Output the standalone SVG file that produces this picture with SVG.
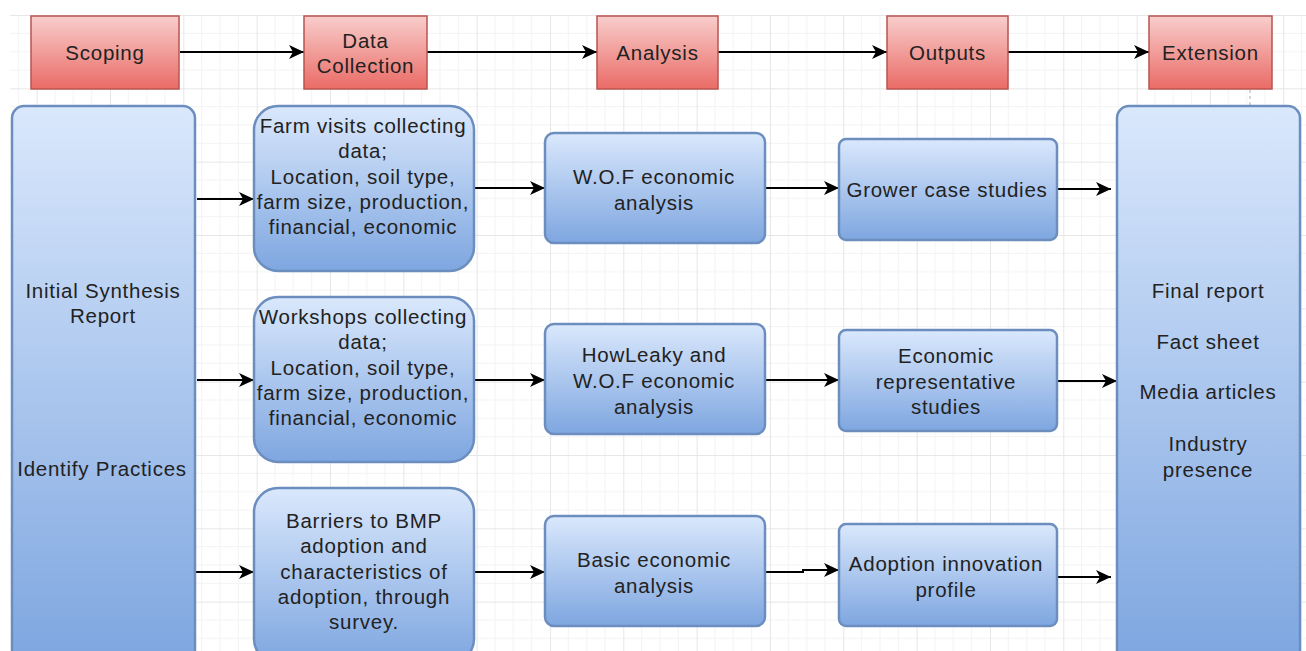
<svg xmlns="http://www.w3.org/2000/svg" width="1306" height="651" viewBox="0 0 1306 651">
<defs>
  <pattern id="grid" patternUnits="userSpaceOnUse" x="36.67" y="15" width="73.33" height="73.33">
    <path d="M18.33 0V73.33M36.67 0V73.33M55 0V73.33M0 18.33H73.33M0 36.67H73.33M0 55H73.33" stroke="#f3f3f3" stroke-width="1" fill="none"/>
    <path d="M0.5 0V73.33M0 0.5H73.33" stroke="#e6e6e6" stroke-width="1" fill="none"/>
  </pattern>
  <linearGradient id="red" x1="0" y1="0" x2="0" y2="1">
    <stop offset="0" stop-color="#f8cecc"/>
    <stop offset="1" stop-color="#ea6b66"/>
  </linearGradient>
  <linearGradient id="blue" x1="0" y1="0" x2="0" y2="1">
    <stop offset="0" stop-color="#dae8fc"/>
    <stop offset="1" stop-color="#7ea6e0"/>
  </linearGradient>
  <marker id="arr" markerWidth="16" markerHeight="14" refX="15" refY="7" orient="auto" markerUnits="userSpaceOnUse">
    <path d="M0 0L15 7L0 14L4 7Z" fill="#000"/>
  </marker>
</defs>
<style>
  .hdr{fill:url(#red);stroke:#b85450;stroke-width:1.5}
  .box{fill:url(#blue);stroke:#6c8ebf;stroke-width:2.5}
  text{font-family:"Liberation Sans",Arial,sans-serif;font-size:20.5px;fill:#222;text-anchor:middle;letter-spacing:0.75px}
  .c{stroke:#000;stroke-width:2;fill:none;marker-end:url(#arr)}
</style>
<rect x="10" y="15" width="1296" height="636" fill="url(#grid)"/>
<line x1="1250" y1="90" x2="1250" y2="105" stroke="#c8c8c8" stroke-width="1.5" stroke-dasharray="3 3"/>

<g id="connectors">
  <line class="c" x1="180" y1="52" x2="304" y2="52"/>
  <line class="c" x1="427" y1="52" x2="597" y2="52"/>
  <line class="c" x1="718" y1="52" x2="887" y2="52"/>
  <line class="c" x1="1008" y1="52" x2="1149" y2="52"/>
  <line class="c" x1="197" y1="199" x2="254" y2="199"/>
  <line class="c" x1="197" y1="380" x2="254" y2="380"/>
  <line class="c" x1="196" y1="572" x2="254" y2="572"/>
  <line class="c" x1="474" y1="188" x2="545" y2="188"/>
  <line class="c" x1="474" y1="380" x2="545" y2="380"/>
  <line class="c" x1="474" y1="572" x2="545" y2="572"/>
  <line class="c" x1="766" y1="188" x2="839" y2="188"/>
  <line class="c" x1="766" y1="380" x2="839" y2="380"/>
  <polyline class="c" points="766,572 803,572 803,570 839,570"/>
  <line class="c" x1="1057" y1="189" x2="1111" y2="189"/>
  <line class="c" x1="1057" y1="381" x2="1117" y2="381"/>
  <line class="c" x1="1057" y1="577" x2="1111" y2="577"/>
</g>

<g id="scoping">
  <rect class="hdr" x="31" y="16" width="148" height="73"/>
  <text x="105" y="59.5">Scoping</text>
</g>
<g id="data-collection">
  <rect class="hdr" x="304" y="16" width="123" height="73"/>
  <text x="365.5" y="47.5">Data</text>
  <text x="365.5" y="73">Collection</text>
</g>
<g id="analysis">
  <rect class="hdr" x="597" y="16" width="121" height="73"/>
  <text x="657.5" y="59.5">Analysis</text>
</g>
<g id="outputs">
  <rect class="hdr" x="887" y="16" width="121" height="73"/>
  <text x="947.5" y="59.5">Outputs</text>
</g>
<g id="extension">
  <rect class="hdr" x="1149" y="16" width="123" height="73"/>
  <text x="1210.5" y="59.5">Extension</text>
</g>

<g id="initial-synthesis">
  <rect class="box" x="12" y="106" width="183" height="556" rx="12"/>
  <text x="103" y="298">Initial Synthesis</text>
  <text x="103" y="323">Report</text>
  <text x="102" y="476">Identify Practices</text>
</g>

<g id="farm-visits">
  <rect class="box" x="254" y="106" width="220" height="165" rx="24"/>
  <text x="363" y="133">Farm visits collecting</text>
  <text x="363" y="158">data;</text>
  <text x="363" y="184">Location, soil type,</text>
  <text x="363" y="209">farm size, production,</text>
  <text x="363" y="234">financial, economic</text>
</g>
<g id="workshops">
  <rect class="box" x="254" y="297" width="220" height="165" rx="24"/>
  <text x="363" y="324">Workshops collecting</text>
  <text x="363" y="349">data;</text>
  <text x="363" y="375">Location, soil type,</text>
  <text x="363" y="400">farm size, production,</text>
  <text x="363" y="425">financial, economic</text>
</g>
<g id="barriers">
  <rect class="box" x="254" y="488" width="220" height="175" rx="24"/>
  <text x="364" y="528">Barriers to BMP</text>
  <text x="364" y="553">adoption and</text>
  <text x="364" y="579">characteristics of</text>
  <text x="364" y="604">adoption, through</text>
  <text x="364" y="629">survey.</text>
</g>

<g id="wof-analysis">
  <rect class="box" x="545" y="133" width="220" height="110" rx="9"/>
  <text x="654" y="184">W.O.F economic</text>
  <text x="654" y="210">analysis</text>
</g>
<g id="howleaky">
  <rect class="box" x="545" y="324" width="220" height="110" rx="9"/>
  <text x="654" y="362">HowLeaky and</text>
  <text x="654" y="388">W.O.F economic</text>
  <text x="654" y="414">analysis</text>
</g>
<g id="basic-economic">
  <rect class="box" x="545" y="516" width="220" height="110" rx="9"/>
  <text x="654" y="567">Basic economic</text>
  <text x="654" y="593">analysis</text>
</g>

<g id="grower-case">
  <rect class="box" x="839" y="139" width="218" height="101" rx="7"/>
  <text x="947" y="197">Grower case studies</text>
</g>
<g id="economic-rep">
  <rect class="box" x="839" y="330" width="218" height="101" rx="7"/>
  <text x="946" y="363">Economic</text>
  <text x="946" y="389">representative</text>
  <text x="946" y="414">studies</text>
</g>
<g id="adoption-profile">
  <rect class="box" x="839" y="524" width="218" height="102" rx="7"/>
  <text x="946" y="571">Adoption innovation</text>
  <text x="946" y="597">profile</text>
</g>

<g id="extension-outputs">
  <rect class="box" x="1117" y="106" width="183" height="556" rx="12"/>
  <text x="1208" y="298">Final report</text>
  <text x="1208" y="349">Fact sheet</text>
  <text x="1208" y="399">Media articles</text>
  <text x="1208" y="451">Industry</text>
  <text x="1208" y="477">presence</text>
</g>
</svg>
